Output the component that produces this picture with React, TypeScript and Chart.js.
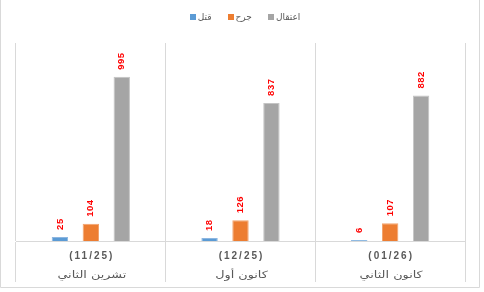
import React, { useEffect, useRef } from 'react';
import { Chart, registerables } from 'chart.js';

Chart.register(...registerables);

const periods = ['(11/25)', '(12/25)', '(01/26)'];
const months = ['تشرين الثاني', 'كانون أول', 'كانون الثاني'];
const seriesNames = ['قتل', 'جرح', 'اعتقال'];
const killed = [25, 18, 6];
const wounded = [104, 126, 107];
const arrested = [995, 837, 882];
const yMax = 1200;

const colors = ['#5b9bd5', '#ed7d31', '#a5a5a5'];
const borderColors = ['#8db6e0', '#f2a36d', '#c4c4c4'];
const textGray = '#595959';
const lineGray = '#d9d9d9';

const decorPlugin = {
  id: 'decor',
  afterDraw(chart: any) {
    const ctx = chart.ctx as CanvasRenderingContext2D;
    const area = chart.chartArea;
    const xScale = chart.scales.x;

    // outer border
    ctx.save();
    ctx.strokeStyle = lineGray;
    ctx.lineWidth = 1;
    ctx.beginPath();
    ctx.moveTo(0.5, 0);
    ctx.lineTo(0.5, 287.5);
    ctx.lineTo(479.5, 287.5);
    ctx.lineTo(479.5, 0);
    ctx.stroke();
    ctx.restore();

    // legend
    ctx.save();
    ctx.font = '9px "DejaVu Sans", sans-serif';
    ctx.textBaseline = 'middle';
    ctx.textAlign = 'left';
    const box = 6;
    const gapBoxText = 2;
    const gapItems = 16;
    const ds = chart.data.datasets;
    const widths = ds.map((d: any) => box + gapBoxText + ctx.measureText(d.label).width);
    const total = widths.reduce((a: number, b: number) => a + b, 0) + gapItems * (ds.length - 1);
    let lx = 245 - total / 2;
    const ly = 17;
    ds.forEach((d: any, i: number) => {
      ctx.fillStyle = d.backgroundColor;
      ctx.fillRect(Math.round(lx), ly - 3, box, box);
      ctx.fillStyle = textGray;
      ctx.fillText(d.label, lx + box + gapBoxText, ly + 1);
      lx += widths[i] + gapItems;
    });
    ctx.restore();

    // value labels
    ctx.save();
    ctx.fillStyle = '#ff0000';
    ctx.font = 'bold 9.5px "Liberation Sans", Arial, sans-serif';
    (ctx as any).letterSpacing = '0.5px';
    ctx.textAlign = 'left';
    ctx.textBaseline = 'middle';
    ds.forEach((d: any, di: number) => {
      const meta = chart.getDatasetMeta(di);
      meta.data.forEach((el: any, i: number) => {
        ctx.save();
        ctx.translate(el.x, el.y - 7);
        ctx.rotate(-Math.PI / 2);
        ctx.fillText(String(d.data[i]), 0, 0);
        ctx.restore();
      });
    });
    ctx.restore();

    // category labels
    ctx.save();
    ctx.textAlign = 'center';
    ctx.textBaseline = 'middle';
    ctx.fillStyle = textGray;
    periods.forEach((p, i) => {
      const x = xScale.getPixelForValue(i);
      ctx.font = 'bold 10px "Liberation Sans", Arial, sans-serif';
      (ctx as any).letterSpacing = '2px';
      ctx.fillText(p, x + 1, area.bottom + 15);
      ctx.font = '10px "DejaVu Sans", sans-serif';
      (ctx as any).letterSpacing = '0px';
      ctx.save();
      ctx.translate(x + 1, area.bottom + 34);
      ctx.scale(1.28, 1);
      ctx.fillText(months[i], 0, 0);
      ctx.restore();
    });
    ctx.restore();
  },
};

export default function App() {
  const ref = useRef<HTMLCanvasElement>(null);
  useEffect(() => {
    document.body.style.margin = '0';
    const values = [killed, wounded, arrested];
    const chart = new Chart(ref.current!, {
      type: 'bar',
      data: {
        labels: periods,
        datasets: values.map((v, i) => ({
          label: seriesNames[i],
          data: v,
          backgroundColor: colors[i],
          borderColor: borderColors[i],
          borderWidth: 1,
          categoryPercentage: 0.62,
          barPercentage: 0.53,
        })),
      },
      options: {
        animation: false,
        responsive: true,
        maintainAspectRatio: false,
        layout: { padding: { top: 43, left: 16, right: 19, bottom: 10 } },
        plugins: { legend: { display: false }, tooltip: { enabled: false } },
        scales: {
          x: {
            grid: { color: lineGray, offset: true, drawTicks: true, tickLength: 41 },
            border: { display: true, color: lineGray },
            ticks: { display: false },
          },
          y: { display: false, min: 0, max: yMax },
        },
      },
      plugins: [decorPlugin],
    });
    return () => chart.destroy();
  }, []);
  return (
    <div style={{ width: 484, height: 292, position: 'relative', background: '#fff' }}>
      <canvas ref={ref} />
    </div>
  );
}
